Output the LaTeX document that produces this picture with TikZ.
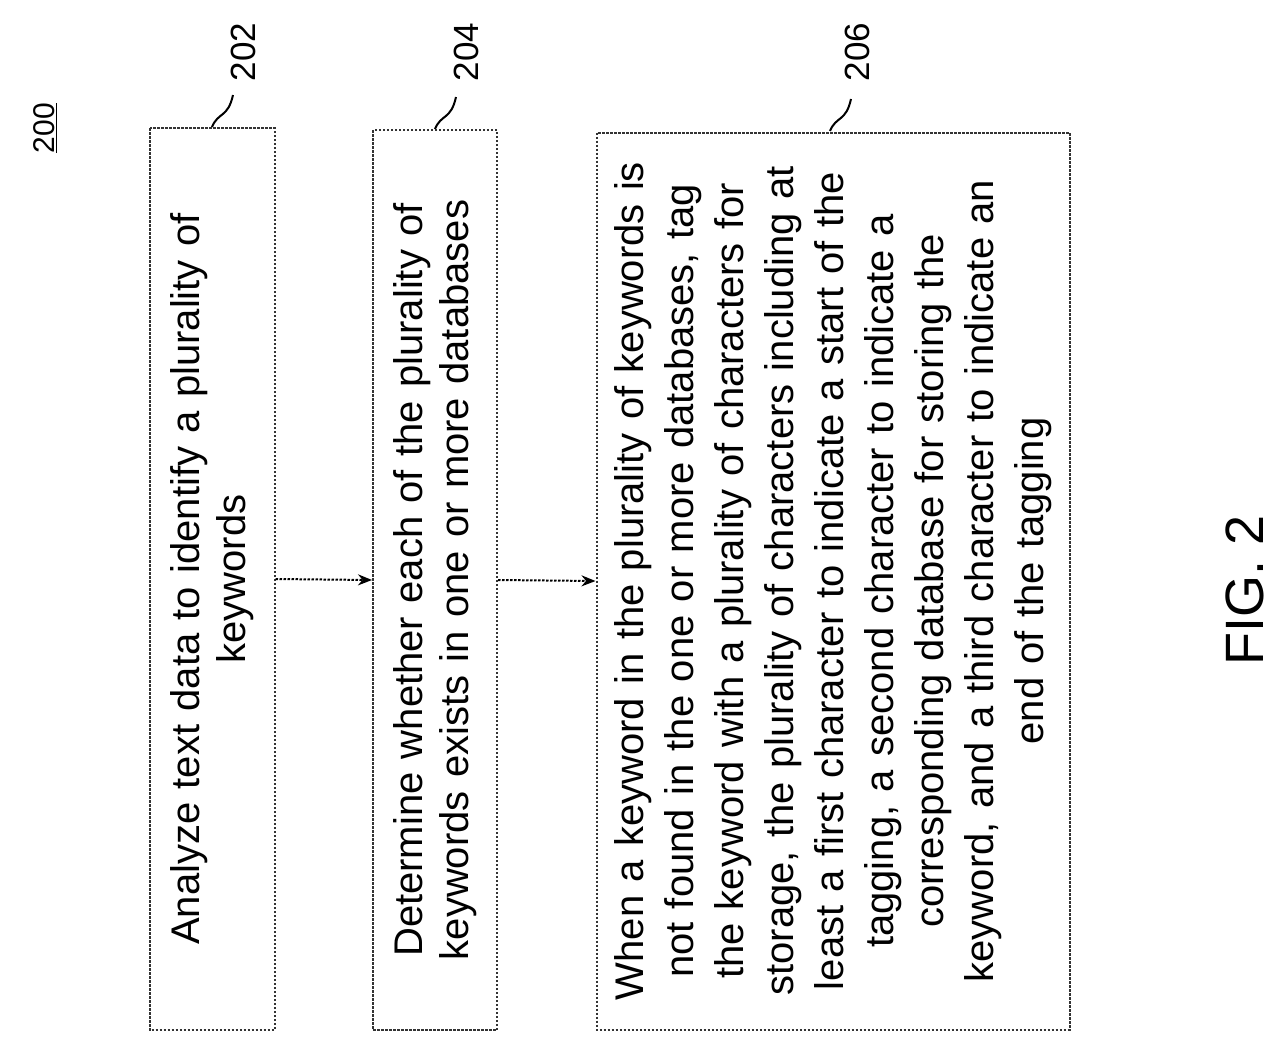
\documentclass[tikz,border=0pt]{standalone}
\usepackage{fontspec}
\setmainfont{Liberation Sans}
\usetikzlibrary{arrows.meta}
\begin{document}
\begin{tikzpicture}[x=1pt,y=-1pt,
 box/.style={draw=black!80,dash pattern=on 2.5pt off 1.5pt,line width=2pt,rotate=90,align=center,inner sep=0pt,font=\fontsize{40}{46}\selectfont},
 arr/.style={-{Stealth[length=14pt,width=11pt]},line width=2pt,dash pattern=on 2.5pt off 1.5pt},
 lbl/.style={rotate=90,font=\fontsize{35}{40}\selectfont},
 sq/.style={line width=2pt}]
\useasboundingbox (0,0) rectangle (1286,1055);
\node[box,minimum width=902pt,minimum height=125pt,text width=880pt] (b1) at (212,579) {Analyze text data to identify a plurality of\\keywords};
\node[box,minimum width=900pt,minimum height=124pt,text width=880pt] (b2) at (435,580) {Determine whether each of the plurality of\\keywords exists in one or more databases};
\node[box,minimum width=897pt,minimum height=473pt,text width=880pt,font=\fontsize{40}{50}\selectfont] (b3) at (833,581) {When a keyword in the plurality of keywords is\\not found in the one or more databases, tag\\the keyword with a plurality of characters for\\storage, the plurality of characters including at\\least a first character to indicate a start of the\\tagging, a second character to indicate a\\corresponding database for storing the\\keyword, and a third character to indicate an\\end of the tagging};
\draw[arr] (b1.south) -- (b2.north);
\draw[arr] (b2.south) -- (b3.north);
\node[lbl] (l1) at (243,52) {202};
\node[lbl] (l2) at (466,52) {204};
\node[lbl] (l3) at (857,52) {206};
\node[lbl,font=\fontsize{30}{34}\selectfont] (l0) at (45,128) {\underline{200}};
\node[rotate=90,font=\fontsize{54}{60}\selectfont] (fig) at (1245,590) {FIG. 2};
\draw[sq] (212,127) .. controls (218,112) and (228,118) .. (233,95);
\draw[sq] (435,129) .. controls (441,114) and (451,120) .. (456,97);
\draw[sq] (830,131) .. controls (836,116) and (846,122) .. (851,99);
\end{tikzpicture}
\end{document}
